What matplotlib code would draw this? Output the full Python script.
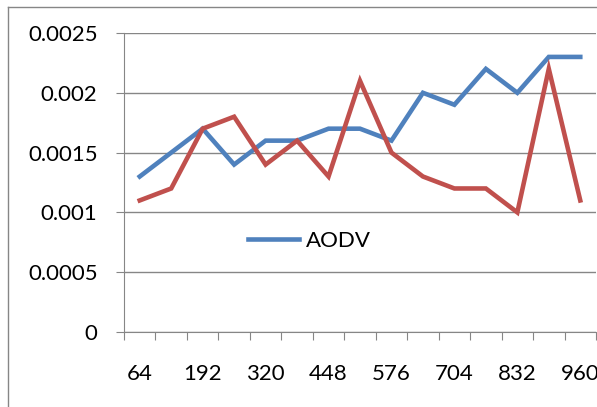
import numpy as np
import matplotlib.pyplot as plt
from matplotlib.lines import Line2D

plt.rcParams['font.family'] = ['Lato', 'DejaVu Sans']

sizes = [64, 128, 192, 256, 320, 384, 448, 512, 576, 640, 704, 768, 832, 896, 960]
aodv = [0.0013, 0.0015, 0.0017, 0.0014, 0.0016, 0.0016, 0.0017, 0.0017,
        0.0016, 0.0020, 0.0019, 0.0022, 0.0020, 0.0023, 0.0023]
other = [0.0011, 0.0012, 0.0017, 0.0018, 0.0014, 0.0016, 0.0013, 0.0021,
         0.0015, 0.0013, 0.0012, 0.0012, 0.0010, 0.0022, 0.0011]
yticks = [0, 0.0005, 0.001, 0.0015, 0.002, 0.0025]
ylabels = ['0', '0.0005', '0.001', '0.0015', '0.002', '0.0025']

grey = '#868686'
fs = 16
fig = plt.figure(figsize=(5.97, 4.07), dpi=100)
ax = fig.add_axes([124/597, 1-332/407, 472/597, 299/407])

x = np.arange(len(sizes))
ax.plot(x, aodv, color='#4F81BD', lw=3.3, label='AODV', solid_joinstyle='miter')
ax.plot(x, other, color='#C0504D', lw=3.3, solid_joinstyle='miter')

ax.set_xlim(-0.5, len(sizes)-0.5)
ax.set_ylim(0, 0.0025)
ax.set_yticks(yticks)
ax.set_yticklabels(ylabels)
ax.yaxis.grid(True, color=grey, lw=1)
ax.set_axisbelow(True)

ax.set_xticks(np.arange(-0.5, len(sizes)), labels=[])
ax.set_xticks(x[::2], minor=True)
ax.set_xticklabels([str(s) for s in sizes[::2]], minor=True)
ax.tick_params(axis='x', which='major', length=6, color=grey, direction='out')
ax.tick_params(axis='x', which='minor', length=0, pad=23, labelsize=fs)
ax.tick_params(axis='y', length=6, color=grey, pad=13, labelsize=fs)

for s in ['top', 'right']:
    ax.spines[s].set_visible(False)
for s in ['left', 'bottom']:
    ax.spines[s].set_color(grey)

ax.legend(loc='center left', bbox_to_anchor=(0.263, 0.304), frameon=False,
          fontsize=fs, handlelength=2.3, handletextpad=0.3, borderpad=0,
          borderaxespad=0)

# outer chart border
fig.add_artist(Line2D([8/597, 8/597], [0, 1-7/407], color=grey, lw=1))
fig.add_artist(Line2D([8/597, 1], [1-7/407, 1-7/407], color=grey, lw=1))

fig.savefig('out.png', dpi=100)
